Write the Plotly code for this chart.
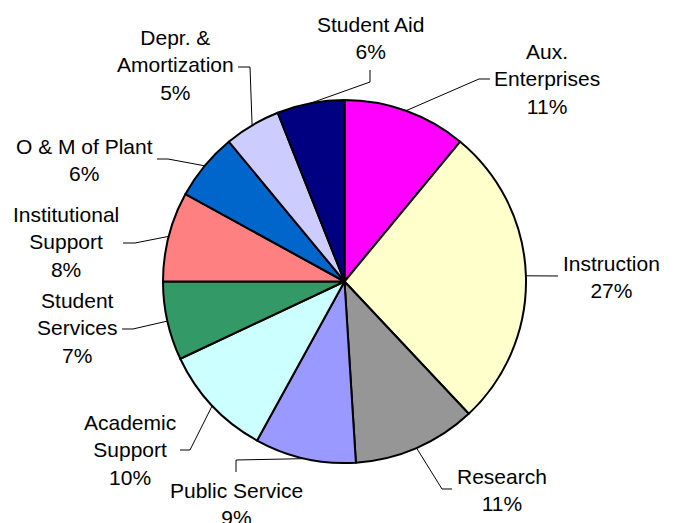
import math
import plotly.graph_objects as go

# Expense categories (clockwise from 12 o'clock) and their shares in percent
categories = [
    "Aux.\nEnterprises",
    "Instruction",
    "Research",
    "Public Service",
    "Academic\nSupport",
    "Student\nServices",
    "Institutional\nSupport",
    "O & M of Plant",
    "Depr. &\nAmortization",
    "Student Aid",
]
shares = [11, 27, 11, 9, 10, 7, 8, 6, 5, 6]

colors = [
    "#FF00FF", "#FFFFCC", "#969696", "#9999FF", "#CCFFFF",
    "#339966", "#FF8080", "#0066CC", "#CCCCFF", "#000080",
]

# Canvas and pie geometry (pixels)
W, H = 677, 523
CX, CY, R = 344.5, 281.5, 181.5

# Label block centres and leader elbow points (pixels), per slice
label_pos = [
    (547, 79), (611, 277), (502, 490), (236, 504), (130, 450),
    (77, 328), (66, 242), (84, 160), (176, 65), (370, 38),
]
leader_pts = [
    [(490, 79), (479, 79)],
    [(558, 276)],
    [(452, 489), (442, 489)],
    [(236, 472), (236, 460)],
    [(180, 450), (190, 450)],
    [(122, 329), (133, 329)],
    [(123, 243), (135, 243)],
    [(157, 159), (168, 159)],
    [(238, 67), (250, 67)],
    [(370, 70), (370, 82)],
]


def px(x, y):
    return x / W, 1 - y / H


fig = go.Figure(
    go.Pie(
        labels=[c.replace("\n", " ") for c in categories],
        values=shares,
        sort=False,
        direction="clockwise",
        rotation=0,
        textinfo="none",
        hoverinfo="label+percent",
        marker=dict(colors=colors, line=dict(color="black", width=2)),
        domain=dict(
            x=[(CX - R) / W, (CX + R) / W],
            y=[(H - CY - R) / H, (H - CY + R) / H],
        ),
    )
)

total = sum(shares)
annotations = []
shapes = []
cum = 0.0
for name, v, (lx, ly), pts in zip(categories, shares, label_pos, leader_pts):
    mid = (cum + v / 2) / total * 2 * math.pi
    cum += v
    ex, ey = CX + R * math.sin(mid), CY - R * math.cos(mid)
    path_pts = pts + [(ex, ey)]
    d = ""
    for i, (x, y) in enumerate(path_pts):
        X, Y = px(x, y)
        d += ("M" if i == 0 else " L") + f"{X:.5f},{Y:.5f}"
    shapes.append(dict(type="path", xref="paper", yref="paper", path=d,
                       line=dict(color="black", width=1)))
    ax, ay = px(lx, ly)
    annotations.append(dict(
        x=ax, y=ay, xref="paper", yref="paper",
        text=name.replace("\n", "<br>") + f"<br>{v}%",
        showarrow=False, xanchor="center", yanchor="middle", align="center",
        font=dict(family="Liberation Sans, Arial, sans-serif", size=21, color="black"),
    ))

fig.update_layout(
    width=W, height=H,
    margin=dict(l=0, r=0, t=0, b=0),
    showlegend=False,
    paper_bgcolor="white",
    plot_bgcolor="white",
    annotations=annotations,
    shapes=shapes,
)

fig.write_html("out.html")
